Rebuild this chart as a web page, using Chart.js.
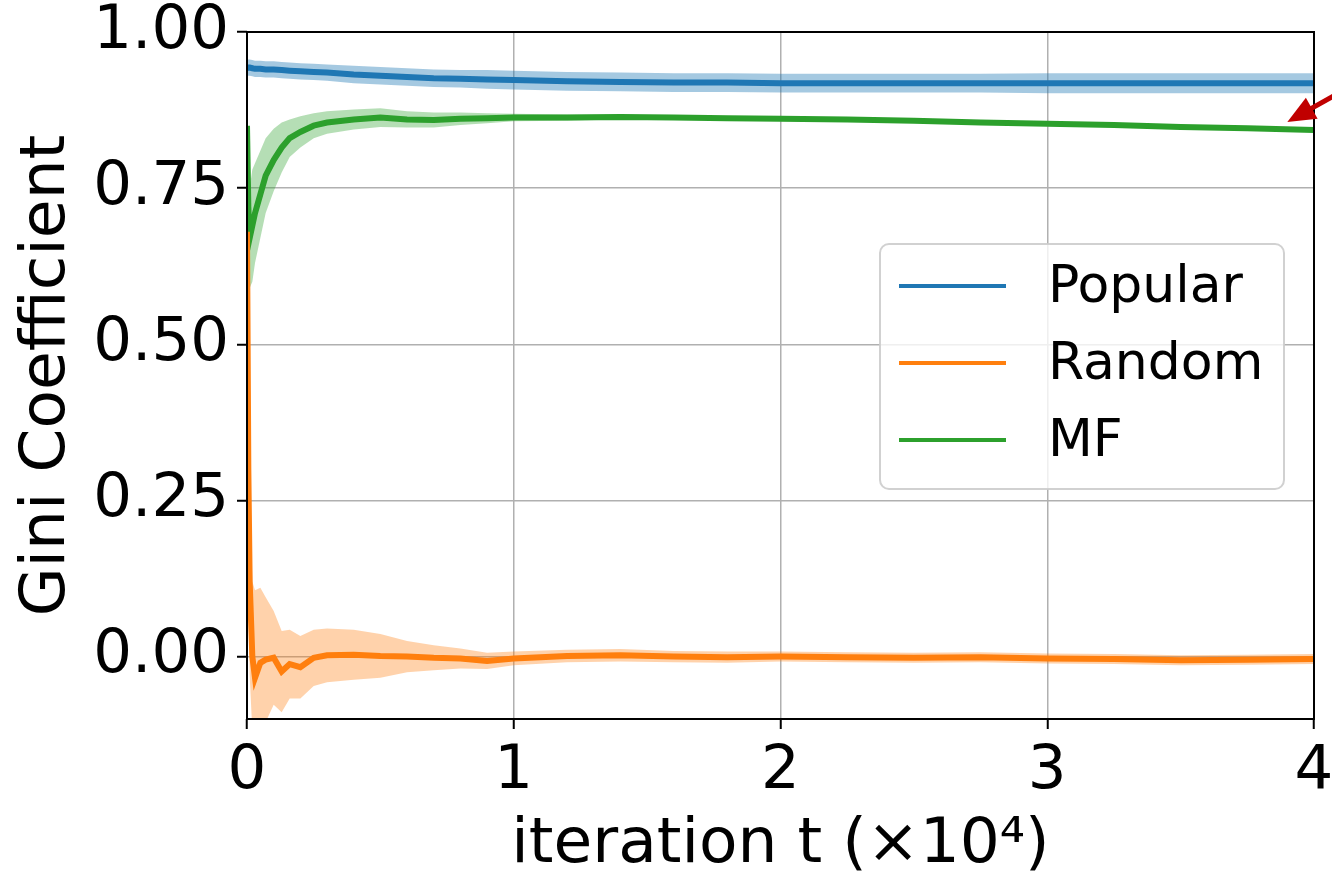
<!DOCTYPE html>
<html>
<head>
<meta charset="utf-8">
<script src="https://cdn.jsdelivr.net/npm/chart.js@4.4.1/dist/chart.umd.min.js"></script>
<style>
  html, body { margin: 0; padding: 0; background: #ffffff; }
  #wrap { width: 1332px; height: 872px; }
</style>
</head>
<body>
<div id="wrap"><canvas id="gini" width="1332" height="872"></canvas></div>
<script>
// iteration t, in units of 10^4
const tValues = [0, 0.005, 0.01, 0.02, 0.03, 0.05, 0.07, 0.1, 0.13, 0.16, 0.2, 0.25, 0.3, 0.4, 0.5,
    0.6, 0.7, 0.8, 0.9, 1.0, 1.2, 1.4, 1.6, 1.8, 2.0, 2.25, 2.5, 2.75, 3.0, 3.25, 3.5, 3.75, 4.0];

const popularMean = [0.942, 0.943, 0.943, 0.942, 0.941, 0.941, 0.940, 0.940, 0.939, 0.938, 0.937, 0.936, 0.935,
    0.932, 0.930, 0.928, 0.926, 0.925, 0.924, 0.923, 0.921, 0.920, 0.919, 0.919, 0.918, 0.918, 0.918,
    0.918, 0.918, 0.918, 0.918, 0.918, 0.918];
const popularSpread = [0.012, 0.013, 0.013, 0.013, 0.013, 0.013, 0.013, 0.013, 0.013, 0.013, 0.013, 0.013, 0.013,
    0.014, 0.014, 0.014, 0.014, 0.014, 0.015, 0.015, 0.015, 0.015, 0.015, 0.015, 0.015, 0.015, 0.015,
    0.015, 0.016, 0.016, 0.016, 0.016, 0.016];

const randomMean = [0.68, 0.30, 0.12, 0.0, -0.034, -0.01, -0.005, -0.002, -0.024, -0.012, -0.017, -0.002, 0.002,
    0.003, 0.001, 0.0, -0.002, -0.003, -0.007, -0.003, 0.001, 0.002, 0.0, -0.001, 0.0, -0.001, -0.002,
    -0.001, -0.003, -0.004, -0.006, -0.005, -0.004];
const randomSpread = [0.05, 0.20, 0.15, 0.12, 0.14, 0.12, 0.10, 0.075, 0.065, 0.055, 0.05, 0.045, 0.043,
    0.04, 0.035, 0.025, 0.02, 0.016, 0.013, 0.011, 0.01, 0.01, 0.009, 0.009, 0.008, 0.008, 0.008,
    0.008, 0.008, 0.008, 0.008, 0.008, 0.008];

const mfMean = [0.85, 0.72, 0.67, 0.69, 0.71, 0.74, 0.77, 0.795, 0.815, 0.83, 0.84, 0.85, 0.855,
    0.86, 0.863, 0.86, 0.859, 0.861, 0.862, 0.863, 0.863, 0.864, 0.863, 0.862, 0.861, 0.86, 0.858,
    0.855, 0.853, 0.851, 0.848, 0.846, 0.843];
const mfSpread = [0.01, 0.06, 0.08, 0.09, 0.08, 0.07, 0.06, 0.05, 0.04, 0.03, 0.025, 0.02, 0.018,
    0.016, 0.015, 0.013, 0.012, 0.01, 0.008, 0.006, 0.005, 0.004, 0.003, 0.003, 0.003, 0.003, 0.003,
    0.003, 0.003, 0.003, 0.003, 0.003, 0.003];

const seriesNames = ['Popular', 'Random', 'MF'];
const seriesColors = ['#1f77b4', '#ff7f0e', '#2ca02c'];
const bandColors = ['rgba(31,119,180,0.4)', 'rgba(255,127,14,0.35)', 'rgba(44,160,44,0.35)'];

const xTicks = [0, 1, 2, 3, 4];
const yTicks = [0, 0.25, 0.5, 0.75, 1.0];

const FONT = 'DejaVu Sans';

function toPoints(ys, offsets, sign) {
    return tValues.map((t, i) => ({ x: t, y: ys[i] + (offsets ? sign * offsets[i] : 0) }));
}

function buildDatasets() {
    const means = [popularMean, randomMean, mfMean];
    const spreads = [popularSpread, randomSpread, mfSpread];
    const sets = [];
    means.forEach((m, k) => {
        // band: lower edge, then upper edge filled down to it
        sets.push({
            label: seriesNames[k] + ' lower', isBand: true,
            data: toPoints(m, spreads[k], -1),
            borderWidth: 0, pointRadius: 0, fill: false, order: 2
        });
        sets.push({
            label: seriesNames[k] + ' upper', isBand: true,
            data: toPoints(m, spreads[k], 1),
            borderWidth: 0, pointRadius: 0, fill: '-1', backgroundColor: bandColors[k], order: 2
        });
    });
    means.forEach((m, k) => {
        sets.push({
            label: seriesNames[k],
            data: toPoints(m),
            borderColor: seriesColors[k], borderWidth: 6, pointRadius: 0,
            fill: false, order: 1
        });
    });
    return sets;
}

// top/right spines like matplotlib
const framePlugin = {
    id: 'frame',
    afterDatasetsDraw(chart) {
        const { ctx, chartArea: a } = chart;
        ctx.save();
        ctx.strokeStyle = '#000000';
        ctx.lineWidth = 2;
        ctx.strokeRect(a.left, a.top, a.right - a.left, a.bottom - a.top);
        ctx.restore();
    }
};

// legend box inside the axes
const boxLegend = {
    id: 'boxLegend',
    afterDraw(chart) {
        const ctx = chart.ctx;
        const x0 = 880, y0 = 244, w = 404, h = 245, r = 9;
        ctx.save();
        ctx.beginPath();
        ctx.roundRect(x0, y0, w, h, r);
        ctx.fillStyle = 'rgba(255,255,255,0.8)';
        ctx.fill();
        ctx.strokeStyle = 'rgba(204,204,204,0.9)';
        ctx.lineWidth = 2;
        ctx.stroke();
        const lines = chart.data.datasets.filter(d => !d.isBand);
        ctx.font = '52px "' + FONT + '"';
        ctx.textBaseline = 'middle';
        ctx.fillStyle = '#000000';
        lines.forEach((d, i) => {
            const y = 286 + i * 77;
            ctx.strokeStyle = d.borderColor;
            ctx.lineWidth = 4;
            ctx.beginPath();
            ctx.moveTo(899, y);
            ctx.lineTo(1006, y);
            ctx.stroke();
            ctx.fillText(d.label, 1048, y + 2);
        });
        ctx.restore();
    }
};

// red arrow pointing at the end of the MF curve
const arrowPlugin = {
    id: 'arrow',
    afterDraw(chart) {
        const ctx = chart.ctx;
        const xs = chart.scales.x, ys = chart.scales.y;
        const tipX = xs.getPixelForValue(3.9);
        const tipY = ys.getPixelForValue(0.856);
        const ang = Math.atan2(-28, 50);
        const tailX = tipX + 70 * Math.cos(ang), tailY = tipY + 70 * Math.sin(ang);
        ctx.save();
        ctx.strokeStyle = '#c00000';
        ctx.fillStyle = '#c00000';
        ctx.lineWidth = 5;
        ctx.beginPath();
        ctx.moveTo(tailX, tailY);
        ctx.lineTo(tipX + 22 * Math.cos(ang), tipY + 22 * Math.sin(ang));
        ctx.stroke();
        const hl = 28, hw = 12;
        const bx = tipX + hl * Math.cos(ang), by = tipY + hl * Math.sin(ang);
        ctx.beginPath();
        ctx.moveTo(tipX, tipY);
        ctx.lineTo(bx + hw * Math.sin(ang), by - hw * Math.cos(ang));
        ctx.lineTo(bx - hw * Math.sin(ang), by + hw * Math.cos(ang));
        ctx.closePath();
        ctx.fill();
        ctx.restore();
    }
};

const ctx = document.getElementById('gini').getContext('2d');
new Chart(ctx, {
    type: 'line',
    data: { datasets: buildDatasets() },
    options: {
        responsive: false,
        animation: false,
        devicePixelRatio: 1,
        layout: { padding: { top: 32, right: 18, left: 0, bottom: 0 } },
        plugins: {
            legend: { display: false },
            tooltip: { enabled: false }
        },
        elements: { line: { tension: 0 } },
        scales: {
            x: {
                type: 'linear',
                min: 0, max: 4,
                afterBuildTicks: s => { s.ticks = xTicks.map(v => ({ value: v })); },
                afterFit: s => { s.height = 153; s.paddingLeft = 0; s.paddingRight = 0; },
                ticks: {
                    color: '#000000', padding: 7,
                    font: { family: FONT, size: 61 },
                    callback: v => String(v)
                },
                grid: { color: '#b0b0b0', lineWidth: 1.5, tickColor: '#000000', tickLength: 10, tickWidth: 2 },
                border: { display: false },
                title: {
                    display: true, text: 'iteration t (\u00d710\u2074)', color: '#000000',
                    font: { family: FONT, size: 63, lineHeight: 0.85 }, padding: { top: 0, bottom: 0 }
                }
            },
            y: {
                type: 'linear',
                min: -0.1, max: 1.0,
                afterBuildTicks: s => { s.ticks = yTicks.map(v => ({ value: v })); },
                afterFit: s => { s.width = 247; s.paddingTop = 0; s.paddingBottom = 0; },
                ticks: {
                    color: '#000000', padding: 8,
                    font: { family: FONT, size: 61 },
                    callback: v => Number(v).toFixed(2)
                },
                grid: { color: '#b0b0b0', lineWidth: 1.5, tickColor: '#000000', tickLength: 10, tickWidth: 2 },
                border: { display: false },
                title: {
                    display: true, text: 'Gini Coefficient', color: '#000000',
                    font: { family: FONT, size: 63 }, padding: { top: 10, bottom: 0 }
                }
            }
        }
    },
    plugins: [framePlugin, boxLegend, arrowPlugin]
});
</script>
</body>
</html>
